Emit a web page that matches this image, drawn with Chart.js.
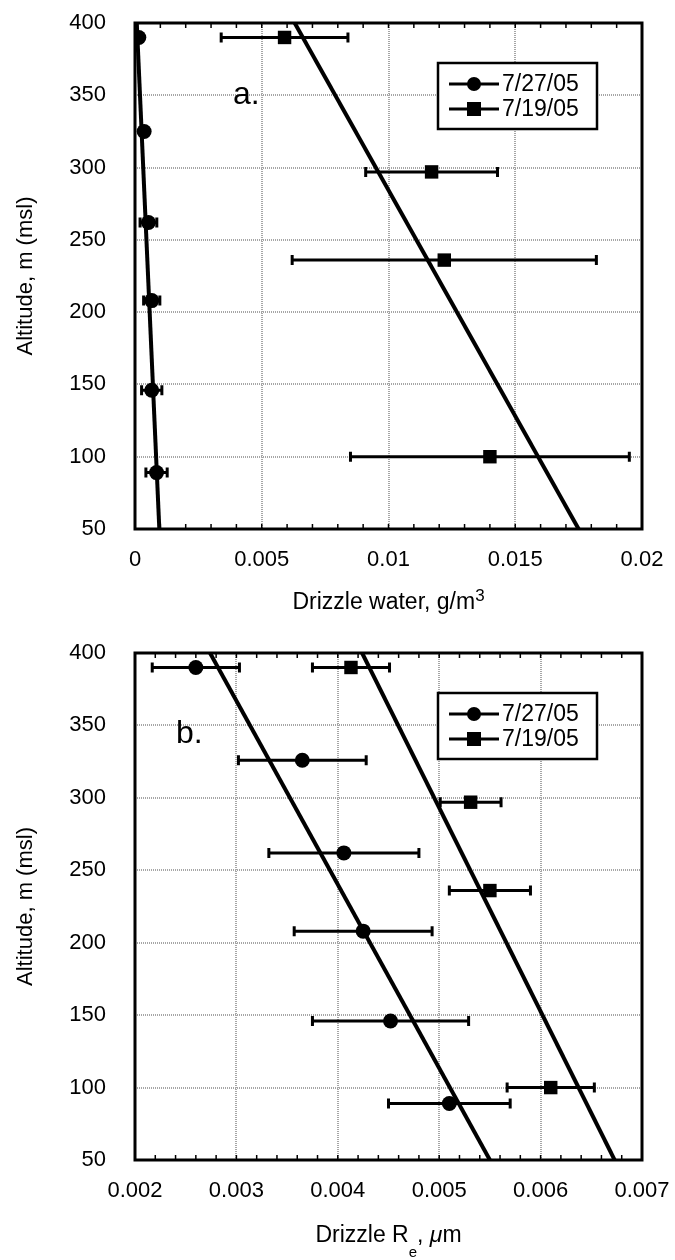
<!DOCTYPE html>
<html>
<head>
<meta charset="utf-8">
<script src="https://cdn.jsdelivr.net/npm/chart.js@4.4.1/dist/chart.umd.min.js"></script>
<style>
  html, body { margin: 0; padding: 0; background: #fff; }
  .panel { position: absolute; left: 0; width: 675px; height: 630px; }
</style>
</head>
<body>
<div class="panel" style="top:0"><canvas id="chart-a" width="675" height="630"></canvas></div>
<div class="panel" style="top:630px"><canvas id="chart-b" width="675" height="630"></canvas></div>
<script>
const FONT = "'Liberation Sans', Arial, Helvetica, sans-serif";
Chart.defaults.font.family = FONT;
Chart.defaults.color = '#000';

const seriesNames = ['7/27/05', '7/19/05'];
const yTicks = [50, 100, 150, 200, 250, 300, 350, 400];
const yLabels = ['50', '100', '150', '200', '250', '300', '350', '400'];
const fitAlt = [400, 50];

// Panel a: drizzle water (g/m3)
const altA_0727 = [390, 325, 262, 208, 146, 89];
const lwcA_0727 = [0.00015, 0.00036, 0.00053, 0.00066, 0.00066, 0.00085];
const errA_0727 = [0, 0, 0.00033, 0.00032, 0.0004, 0.00042];
const altA_0719 = [390, 297, 236, 100];
const lwcA_0719 = [0.0059, 0.0117, 0.0122, 0.0140];
const errA_0719 = [0.0025, 0.0026, 0.006, 0.0055];
const fitA_0727 = [0.00007, 0.00096];
const fitA_0719 = [0.0063, 0.0175];
const xTicksA = [0, 0.005, 0.01, 0.015, 0.02];
const xLabelsA = ['0', '0.005', '0.01', '0.015', '0.02'];

// Panel b: drizzle effective radius
const altB_0727 = [390, 326, 262, 208, 146, 89];
const reB_0727 = [0.0026, 0.00365, 0.00406, 0.00425, 0.00452, 0.0051];
const errB_0727 = [0.00043, 0.00063, 0.00074, 0.00068, 0.00077, 0.0006];
const altB_0719 = [390, 297, 236, 100];
const reB_0719 = [0.00413, 0.00531, 0.0055, 0.0061];
const errB_0719 = [0.00038, 0.0003, 0.0004, 0.00043];
const fitB_0727 = [0.00274, 0.0055];
const fitB_0719 = [0.00424, 0.00673];
const xTicksB = [0.002, 0.003, 0.004, 0.005, 0.006, 0.007];
const xLabelsB = ['0.002', '0.003', '0.004', '0.005', '0.006', '0.007'];

const toPoints = (xs, ys) => xs.map((x, i) => ({ x: x, y: ys[i] }));

// horizontal error bars with end caps, under the markers
const errorBars = {
    id: 'errorBars',
    beforeDatasetsDraw(chart) {
        const { ctx, scales: { x, y } } = chart;
        ctx.save();
        ctx.strokeStyle = '#000';
        ctx.lineWidth = 3;
        chart.data.datasets.forEach(ds => {
            if (!ds.errX) return;
            ds.data.forEach((p, i) => {
                const e = ds.errX[i];
                if (!e) return;
                const x1 = x.getPixelForValue(p.x - e);
                const x2 = x.getPixelForValue(p.x + e);
                const py = y.getPixelForValue(p.y);
                ctx.beginPath();
                ctx.moveTo(x1, py); ctx.lineTo(x2, py);
                ctx.moveTo(x1, py - 5); ctx.lineTo(x1, py + 5);
                ctx.moveTo(x2, py - 5); ctx.lineTo(x2, py + 5);
                ctx.stroke();
            });
        });
        ctx.restore();
    }
};

// frame, minor ticks, panel letter, legend and x title
const decor = {
    id: 'decor',
    afterDraw(chart, args, opts) {
        const { ctx, chartArea: a, scales: { x } } = chart;
        ctx.save();
        ctx.strokeStyle = '#000';
        ctx.fillStyle = '#000';

        // minor ticks on top and bottom edges
        ctx.lineWidth = 1.5;
        const n = Math.round((x.max - x.min) / opts.minorStep);
        ctx.beginPath();
        for (let i = 1; i < n; i++) {
            const px = x.getPixelForValue(x.min + i * opts.minorStep);
            ctx.moveTo(px, a.bottom); ctx.lineTo(px, a.bottom - 5);
            ctx.moveTo(px, a.top); ctx.lineTo(px, a.top + 5);
        }
        ctx.stroke();

        ctx.lineWidth = 3;
        ctx.strokeRect(a.left, a.top, a.right - a.left, a.bottom - a.top);

        // panel letter
        ctx.font = '32px ' + FONT;
        ctx.textBaseline = 'alphabetic';
        ctx.textAlign = 'left';
        ctx.fillText(opts.letter, a.left + opts.letterX, a.top + opts.letterY);

        // legend
        const L = a.right - 204, T = a.top + 40;
        ctx.fillStyle = '#fff';
        ctx.fillRect(L, T, 159, 66);
        ctx.lineWidth = 2.5;
        ctx.strokeRect(L, T, 159, 66);
        ctx.fillStyle = '#000';
        ctx.font = '23px ' + FONT;
        ctx.textBaseline = 'middle';
        seriesNames.forEach((name, i) => {
            const cy = T + 21 + i * 25;
            ctx.lineWidth = 3;
            ctx.beginPath();
            ctx.moveTo(L + 11, cy); ctx.lineTo(L + 61, cy);
            ctx.stroke();
            ctx.beginPath();
            if (i === 0) {
                ctx.arc(L + 36, cy, 7, 0, Math.PI * 2);
                ctx.fill();
            } else {
                ctx.fillRect(L + 29, cy - 7, 14, 14);
            }
            ctx.fillText(name, L + 64, cy + 1);
        });

        // x axis title built from parts (sub/superscripts)
        const parts = opts.title;
        let total = 0;
        parts.forEach(p => {
            ctx.font = (p.italic ? 'italic ' : '') + p.size + 'px ' + FONT;
            p.w = ctx.measureText(p.t).width;
            total += p.w;
        });
        let tx = (a.left + a.right) / 2 - total / 2;
        const base = a.bottom + opts.titleY;
        ctx.textBaseline = 'alphabetic';
        parts.forEach(p => {
            ctx.font = (p.italic ? 'italic ' : '') + p.size + 'px ' + FONT;
            ctx.fillText(p.t, tx, base + (p.dy || 0));
            tx += p.w;
        });
        ctx.restore();
    }
};

function makeChart(id, cfg) {
    return new Chart(document.getElementById(id), {
        type: 'scatter',
        plugins: [errorBars, decor],
        data: {
            datasets: [
                {
                    label: seriesNames[0],
                    data: toPoints(cfg.x1, cfg.alt1),
                    errX: cfg.e1,
                    pointStyle: 'circle',
                    pointRadius: 7.5,
                    backgroundColor: '#000',
                    borderWidth: 0
                },
                {
                    label: seriesNames[1],
                    data: toPoints(cfg.x2, cfg.alt2),
                    errX: cfg.e2,
                    pointStyle: 'rect',
                    pointRadius: 9.5,
                    backgroundColor: '#000',
                    borderWidth: 0
                },
                {
                    type: 'line',
                    data: toPoints(cfg.fit1, fitAlt),
                    borderColor: '#000',
                    borderWidth: 4,
                    pointRadius: 0
                },
                {
                    type: 'line',
                    data: toPoints(cfg.fit2, fitAlt),
                    borderColor: '#000',
                    borderWidth: 4,
                    pointRadius: 0
                }
            ]
        },
        options: {
            responsive: false,
            animation: false,
            layout: { autoPadding: false, padding: { top: 23, right: 33, left: 0, bottom: 0 } },
            plugins: {
                legend: { display: false },
                tooltip: { enabled: false },
                decor: cfg.decor
            },
            scales: {
                x: {
                    type: 'linear',
                    min: cfg.xTicks[0],
                    max: cfg.xTicks[cfg.xTicks.length - 1],
                    afterBuildTicks: s => { s.ticks = cfg.xTicks.map(v => ({ value: v })); },
                    afterFit: s => {
                        s.height = cfg.xAxisHeight;
                        s.paddingLeft = 0;
                        s.paddingRight = 0;
                    },
                    ticks: {
                        font: { size: 22 },
                        color: '#000',
                        padding: 18,
                        maxRotation: 0,
                        callback: (v, i) => cfg.xLabels[i]
                    },
                    grid: { color: '#a6a6a6', lineWidth: 2, drawTicks: false, borderDash: [1, 1] },
                    border: { display: false, dash: [1, 1] }
                },
                y: {
                    type: 'linear',
                    min: 50,
                    max: 400,
                    afterBuildTicks: s => { s.ticks = yTicks.map(v => ({ value: v })); },
                    afterFit: s => {
                        s.width = 135;
                        s.paddingTop = 0;
                        s.paddingBottom = 0;
                    },
                    ticks: {
                        font: { size: 22 },
                        color: '#000',
                        padding: 29,
                        callback: (v, i) => yLabels[i]
                    },
                    grid: { color: '#a6a6a6', lineWidth: 2, drawTicks: false, borderDash: [1, 1] },
                    border: { display: false, dash: [1, 1] },
                    title: {
                        display: true,
                        text: 'Altitude, m (msl)',
                        font: { size: 22 },
                        color: '#000',
                        padding: { top: 13, bottom: 0 }
                    }
                }
            }
        }
    });
}

makeChart('chart-a', {
    x1: lwcA_0727, alt1: altA_0727, e1: errA_0727,
    x2: lwcA_0719, alt2: altA_0719, e2: errA_0719,
    fit1: fitA_0727, fit2: fitA_0719,
    xTicks: xTicksA, xLabels: xLabelsA, xAxisHeight: 101,
    decor: {
        minorStep: 0.001, letter: 'a.', letterX: 98, letterY: 81, titleY: 80,
        title: [
            { t: 'Drizzle water, g/m', size: 23 },
            { t: '3', size: 17, dy: -8 }
        ]
    }
});

makeChart('chart-b', {
    x1: reB_0727, alt1: altB_0727, e1: errB_0727,
    x2: reB_0719, alt2: altB_0719, e2: errB_0719,
    fit1: fitB_0727, fit2: fitB_0719,
    xTicks: xTicksB, xLabels: xLabelsB, xAxisHeight: 100,
    decor: {
        minorStep: 0.0002, letter: 'b.', letterX: 41, letterY: 90, titleY: 82,
        title: [
            { t: 'Drizzle R', size: 23 },
            { t: 'e', size: 15, dy: 15 },
            { t: ', ', size: 23 },
            { t: 'μ', size: 23, italic: true },
            { t: 'm', size: 23 }
        ]
    }
});
</script>
</body>
</html>
